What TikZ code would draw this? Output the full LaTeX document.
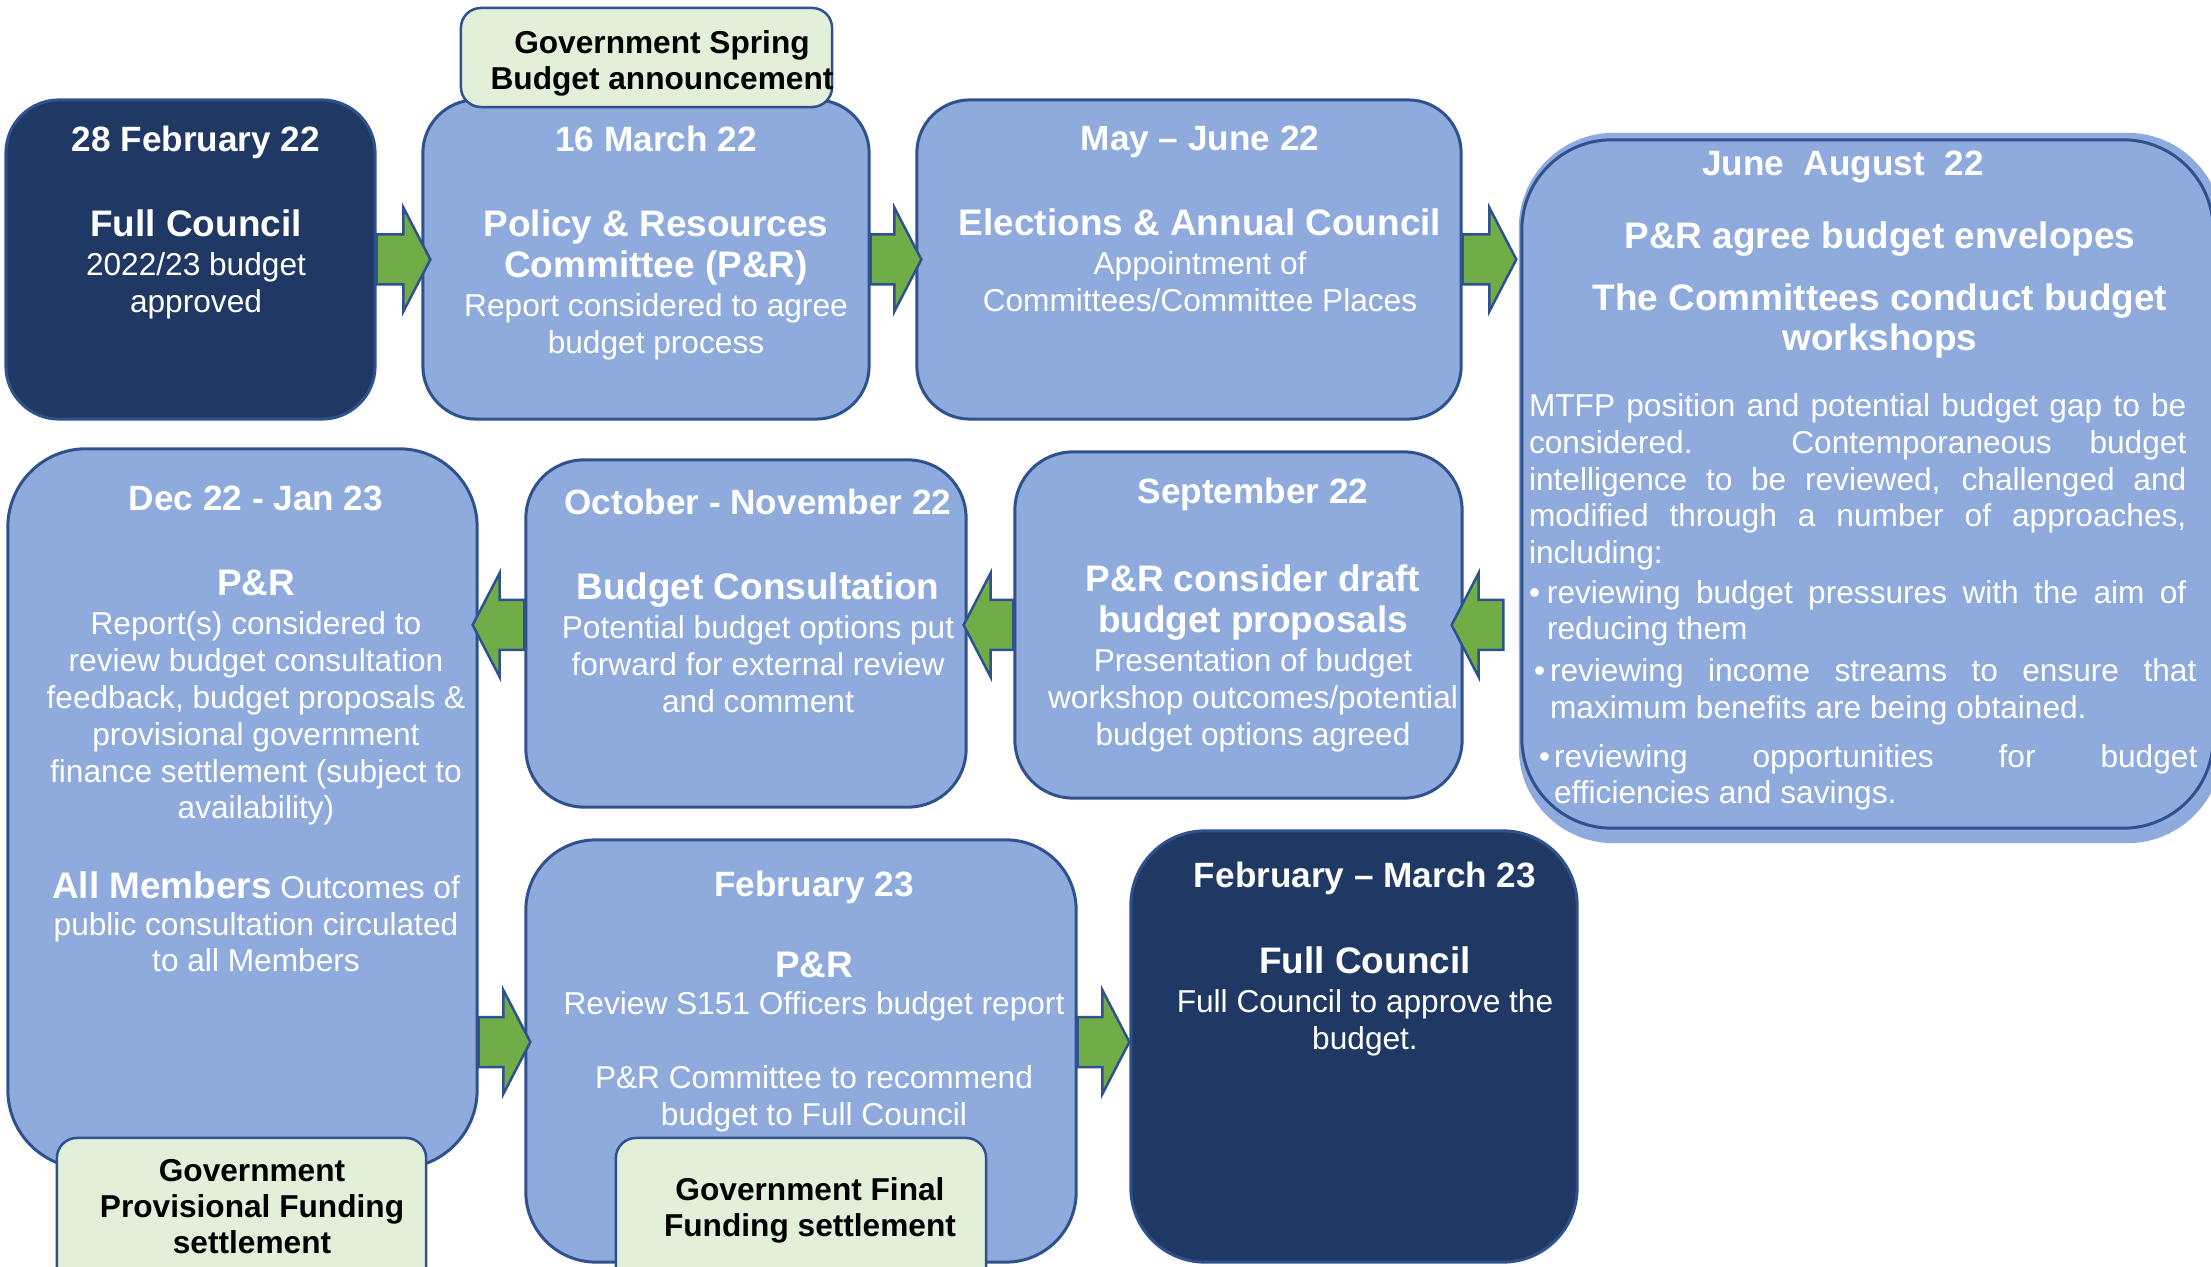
\documentclass[tikz,border=0pt]{standalone}
\usepackage{fontspec}
\setmainfont{Liberation Sans}
\usetikzlibrary{calc}
\usetikzlibrary{positioning}

\definecolor{navy}{HTML}{203864}
\definecolor{edgeblue}{HTML}{2F528F}
\definecolor{paleblue}{HTML}{8FAADC}
\definecolor{leafgreen}{HTML}{70AD47}
\definecolor{mint}{HTML}{E2F0D9}

\providecommand\hdate[1]{{\fontsize{10}{10.5}\selectfont\bfseries #1}}
\providecommand\htitle[1]{{\fontsize{10.5}{10.5}\selectfont\bfseries #1}}
% block arrow from a start point to its tip
\providecommand\flowarrow[2]{%
  \draw[flowarrow] ($(#1)+(0,25)$) -- ($(#2)!0.27cm!(#1)+(0,25)$)
    -- ($(#2)!0.27cm!(#1)+(0,52)$) -- (#2)
    -- ($(#2)!0.27cm!(#1)+(0,-52)$) -- ($(#2)!0.27cm!(#1)+(0,-25)$)
    -- ($(#1)+(0,-25)$) -- cycle;}

\tikzset{
  stage/.style = {draw=edgeblue, line width=0.03cm, fill=paleblue, rounded corners=#1, inner sep=0pt},
  stage/.default = 0.55cm,
  keystage/.style = {stage=#1, fill=navy},
  keystage/.default = 0.55cm,
  govnote/.style = {draw=edgeblue, line width=0.025cm, fill=mint, rounded corners=0.2cm, inner sep=0pt},
  stagetext/.style = {text=white, align=center, inner sep=0pt, anchor=north, font=\fontsize{9}{10.5}\selectfont},
  govtext/.style = {stagetext, text=black, font=\fontsize{9}{10.3}\selectfont\bfseries},
  flowarrow/.style = {fill=leafgreen, draw=edgeblue, line width=0.025cm, line join=miter},
}

\begin{document}
\begin{tikzpicture}[x=0.01cm, y=-0.01cm]

    \path[use as bounding box, fill=white] (0,0) rectangle (2211,1267);
    \clip (0,0) rectangle (2211,1267);

    % top row
    \node (b1) [keystage=0.53cm, minimum width=3.69cm, minimum height=3.19cm] at (190.5,259.5) {};
    \node (b2) [stage=0.53cm, minimum width=4.46cm, minimum height=3.19cm] at (646,259.5) {};
    \node (b3) [stage=0.53cm, minimum width=5.44cm, minimum height=3.19cm] at (1189,259.5) {};
    \node (b4s) [stage=0.95cm, draw=none, minimum width=7.03cm, minimum height=7.10cm] at (1870.5,488) {};
    \node (b4) [stage=0.9cm, minimum width=6.91cm, minimum height=6.88cm] at (1867.5,484) {};
    \node (g1) [govnote, minimum width=3.71cm, minimum height=0.99cm] at (646.5,57.5) {};

    % middle row
    \node (b5) [stage=0.78cm, minimum width=4.69cm, minimum height=7.19cm] at (242.5,808.5) {};
    \node (b6) [stage=0.58cm, minimum width=4.40cm, minimum height=3.47cm] at (746,633.5) {};
    \node (b7) [stage=0.58cm, minimum width=4.47cm, minimum height=3.46cm] at (1238.5,625) {};

    % bottom row
    \node (b8) [stage=0.7cm, minimum width=5.50cm, minimum height=4.22cm] at (801,1051) {};
    \node (b9) [keystage=0.74cm, minimum width=4.46cm, minimum height=4.31cm] at (1354,1046.5) {};
    \node (g2) [govnote, minimum width=3.69cm, minimum height=1.52cm] at (241.5,1214) {};
    \node (g3) [govnote, minimum width=3.70cm, minimum height=1.52cm] at (801,1214) {};

    % texts
    \node (t1) [stagetext] at ($(b1.north)+(5.5,27)$)
        {\hdate{28 February 22}\\[13.7pt]\htitle{Full Council}\\[0.5pt]2022/23 budget\\approved};
    \node (t2) [stagetext] at ($(b2.north)+(10,27)$)
        {\hdate{16 March 22}\\[13.7pt]\htitle{Policy \& Resources}\\[1.2pt]\htitle{Committee (P\&R)}\\[0.5pt]Report considered to agree\\budget process};
    \node (t3) [stagetext] at ($(b3.north)+(11,27)$)
        {\hdate{May -- June 22}\\[13.7pt]\htitle{Elections \& Annual Council}\\[0.5pt]Appointment of\\Committees/Committee Places};
    \node (t4a) [stagetext] at ($(b4.north)+(-24.5,12)$) {\hdate{June\ \ August\ \ 22}};
    \node (t4b) [stagetext] at ($(b4.north)+(12.5,83)$)
        {\htitle{P\&R agree budget envelopes}\\[7.1pt]\htitle{The Committees conduct budget}\\[0.9pt]\htitle{workshops}};
    \node (t4c) [stagetext, anchor=north west, align=justify, text width=6.57cm, font=\fontsize{9}{10.4}\selectfont]
        at ($(b4.north west)+(8,255)$) {\tolerance=10000\hyphenpenalty=10000
        MTFP position and potential budget gap to be\linebreak considered. Contemporaneous budget\linebreak
        intelligence to be reviewed, challenged and\linebreak modified through a number of approaches,\linebreak including:\par
        \vskip1pt
        {\hangindent=0.18cm\hangafter=1\noindent\makebox[0.18cm][l]{\textbullet}reviewing budget pressures with the aim of\linebreak reducing them\par}
        \vskip1.5pt
        {\leftskip=0.05cm\rightskip=-0.1cm\hangindent=0.16cm\hangafter=1\noindent\makebox[0.16cm][l]{\textbullet}reviewing income streams to ensure that\linebreak maximum benefits are being obtained.\par}
        \vskip3.5pt
        {\leftskip=0.1cm\rightskip=-0.11cm\hangindent=0.15cm\hangafter=1\noindent\makebox[0.15cm][l]{\textbullet}reviewing opportunities for budget\linebreak efficiencies and savings.\par}};
    \node (t5) [stagetext] at ($(b5.north)+(13.5,38)$)
        {\hdate{Dec 22 - Jan 23}\\[13.7pt]\htitle{P\&R}\\[0.5pt]Report(s) considered to\\review budget consultation\\feedback, budget proposals \&\\provisional government\\finance settlement (subject to\\availability)\\[12pt]\htitle{All Members} Outcomes of\\public consultation circulated\\to all Members};
    \node (t6) [stagetext] at ($(b6.north)+(12,30)$)
        {\hdate{October - November 22}\\[13.7pt]\htitle{Budget Consultation}\\[0.5pt]Potential budget options put\\forward for external review\\and comment};
    \node (t7) [stagetext] at ($(b7.north)+(14.5,27)$)
        {\hdate{September 22}\\[14.5pt]\htitle{P\&R consider draft}\\[1.2pt]\htitle{budget proposals}\\[0.6pt]Presentation of budget\\workshop outcomes/potential\\budget options agreed};
    \node (t8) [stagetext] at ($(b8.north)+(13,32)$)
        {\hdate{February 23}\\[12.5pt]\htitle{P\&R}\\Review S151 Officers budget report\\[10.5pt]P\&R Committee to recommend\\budget to Full Council};
    \node (t9) [stagetext] at ($(b9.north)+(11,32)$)
        {\hdate{February -- March 23}\\[14pt]\htitle{Full Council}\\[0.5pt]Full Council to approve the\\budget.};
    \node (gt1) [govtext] at ($(g1.north)+(15.5,23)$) {Government Spring\\Budget announcement};
    \node (gt2) [govtext] at ($(g2.north)+(10.5,22)$) {Government\\Provisional Funding\\settlement};
    \node (gt3) [govtext] at ($(g3.north)+(9,40)$) {Government Final\\Funding settlement};

    % arrows
    \coordinate (a1s) at (b1.east);
    \coordinate (a1t) at ($(b2.west)+(9,0)$);
    \coordinate (a2s) at (b2.east);
    \coordinate (a2t) at ($(b3.west)+(6,0)$);
    \coordinate (a3s) at (b3.east);
    \coordinate (a3t) at ($(b3.east -| b4.west)+(-4,0)$);
    \coordinate (a4s) at ($(b7.east -| b4.west)+(-17,0)$);
    \coordinate (a4t) at ($(b7.east)+(-12,0)$);
    \coordinate (a5s) at (b7.west);
    \coordinate (a5t) at ($(b7.west -| b6.east)+(-4,0)$);
    \coordinate (a6s) at (b7.west -| b6.west);
    \coordinate (a6t) at ($(b7.west -| b5.east)+(-6,0)$);
    \coordinate (a7s) at ($(b8.west -| b5.east)+(0,-9)$);
    \coordinate (a7t) at ($(b8.west)+(6,-9)$);
    \coordinate (a8s) at ($(b8.east)+(0,-9)$);
    \coordinate (a8t) at ($(b8.east -| b9.west)+(0,-9)$);
    \foreach \a in {1,...,8}
        \flowarrow{a\a s}{a\a t};

\end{tikzpicture}
\end{document}
